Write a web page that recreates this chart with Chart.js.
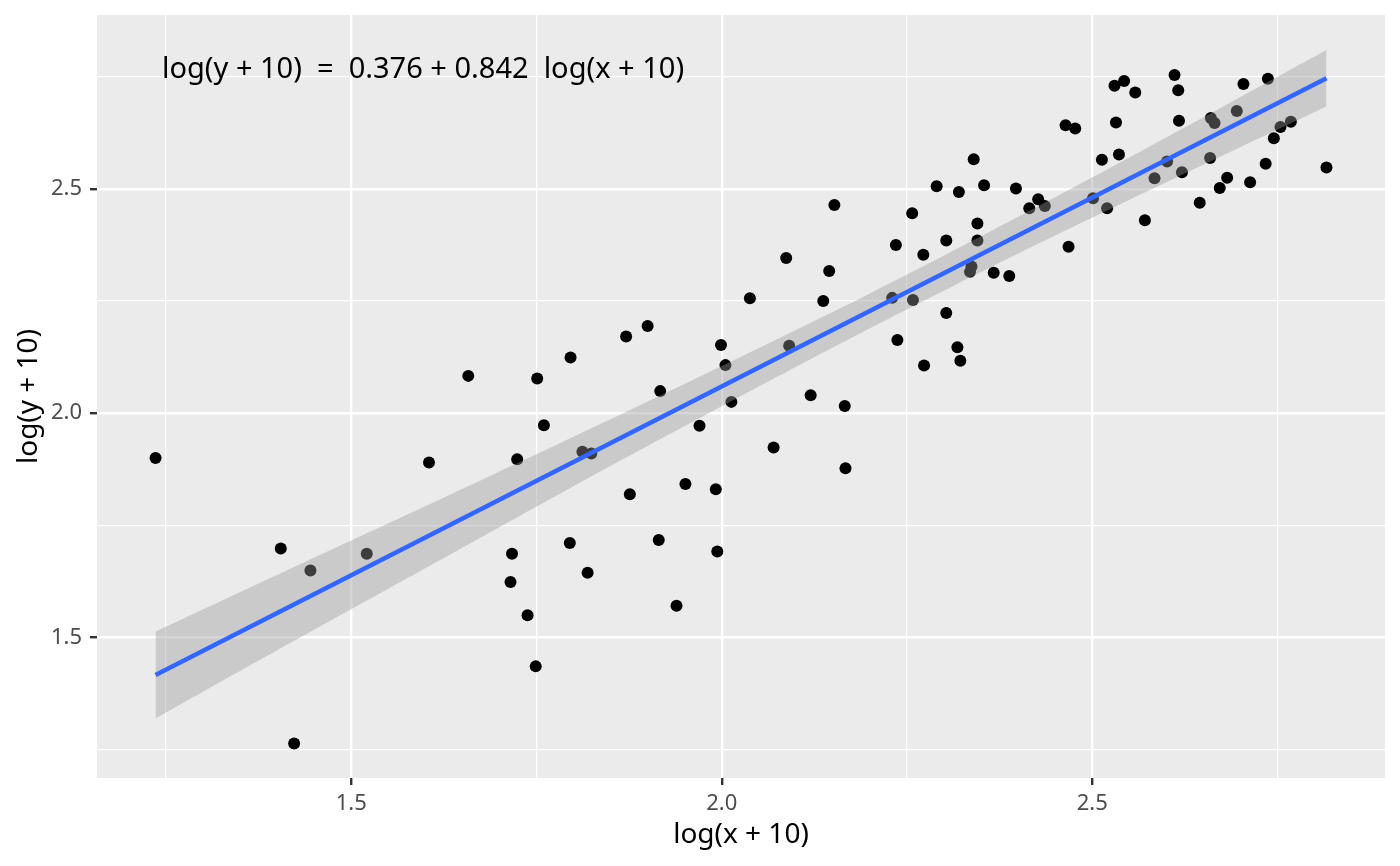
<!doctype html>
<html>
<head>
  <meta charset="UTF-8">
  <script src="https://cdn.jsdelivr.net/npm/chart.js"></script>
  <style>
    html, body { margin: 0; padding: 0; background: #ffffff; }
    canvas { display: block; }
  </style>
</head>
<body>
  <canvas id="fitChart" width="1400" height="866"></canvas>

<script>
  // points
  const xVals = [1.236, 1.405, 1.423, 1.445, 1.521, 1.605, 1.658, 1.717, 1.715, 1.724,
    1.738, 1.751, 1.749, 1.760, 1.796, 1.795, 1.812, 1.824, 1.819, 1.871,
    1.876, 1.900, 1.915, 1.917, 1.939, 1.951, 1.970, 1.992, 1.994, 1.999,
    2.005, 2.013, 2.038, 2.070, 2.087, 2.091, 2.120, 2.137, 2.145, 2.152,
    2.166, 2.167, 2.230, 2.235, 2.237, 2.257, 2.258, 2.272, 2.273, 2.290,
    2.303, 2.303, 2.318, 2.320, 2.322, 2.337, 2.335, 2.340, 2.345, 2.345,
    2.354, 2.367, 2.388, 2.397, 2.415, 2.427, 2.436, 2.464, 2.468, 2.477,
    2.501, 2.513, 2.520, 2.530, 2.532, 2.536, 2.543, 2.558, 2.571, 2.584,
    2.601, 2.611, 2.616, 2.617, 2.621, 2.645, 2.659, 2.660, 2.665, 2.672,
    2.682, 2.695, 2.704, 2.713, 2.734, 2.737, 2.745, 2.754, 2.768, 2.816];
  const yVals = [1.900, 1.698, 1.263, 1.649, 1.686, 1.890, 2.083, 1.686, 1.623, 1.897,
    1.549, 2.077, 1.435, 1.973, 2.124, 1.710, 1.914, 1.910, 1.644, 2.171,
    1.819, 2.194, 1.717, 2.049, 1.570, 1.842, 1.972, 1.830, 1.691, 2.152,
    2.107, 2.025, 2.256, 1.923, 2.346, 2.150, 2.040, 2.250, 2.317, 2.464,
    2.016, 1.877, 2.257, 2.375, 2.163, 2.446, 2.252, 2.353, 2.106, 2.506,
    2.385, 2.223, 2.147, 2.493, 2.117, 2.327, 2.315, 2.566, 2.423, 2.385,
    2.508, 2.313, 2.306, 2.501, 2.457, 2.477, 2.462, 2.642, 2.371, 2.635,
    2.479, 2.565, 2.457, 2.730, 2.648, 2.577, 2.741, 2.715, 2.430, 2.524,
    2.561, 2.754, 2.720, 2.652, 2.537, 2.469, 2.569, 2.658, 2.647, 2.502,
    2.525, 2.674, 2.734, 2.515, 2.556, 2.746, 2.613, 2.638, 2.650, 2.548];

  // fitted line ends and confidence band edges
  const fitX = [1.236, 2.816];
  const fitY = [1.416, 2.747];
  const bandX = [1.236, 1.4, 1.6, 1.8, 2.0, 2.2, 2.4, 2.6, 2.816];
  const bandUpper = [1.513, 1.639, 1.792, 1.947, 2.105, 2.267, 2.438, 2.615, 2.810];
  const bandLower = [1.319, 1.471, 1.654, 1.837, 2.015, 2.189, 2.356, 2.515, 2.684];

  const xMajor = [1.5, 2.0, 2.5];
  const xMinor = [1.25, 1.75, 2.25, 2.75];
  const yMajor = [1.5, 2.0, 2.5];
  const yMinor = [1.25, 1.75, 2.25, 2.75];

  const xTitle = 'log(x + 10)';
  const yTitle = 'log(y + 10)';
  const eqText = 'log(y + 10)  =  0.376 + 0.842  log(x + 10)';

  const FONT = "'Noto Sans', 'Open Sans', sans-serif";

  const zip = (xs, ys) => xs.map((x, i) => ({ x: x, y: ys[i] }));
  const isMajor = (v, majors) => majors.some(m => Math.abs(m - v) < 1e-9);

  // grey panel behind everything
  const panelBg = {
    id: 'panelBg',
    beforeDraw(chart) {
      const { ctx, chartArea: a } = chart;
      ctx.save();
      ctx.fillStyle = '#EBEBEB';
      ctx.fillRect(a.left, a.top, a.right - a.left, a.bottom - a.top);
      ctx.restore();
    }
  };

  // equation label in the top left of the panel
  const eqLabel = {
    id: 'eqLabel',
    afterDatasetsDraw(chart) {
      const { ctx, chartArea: a } = chart;
      ctx.save();
      ctx.font = '29px ' + FONT;
      ctx.fillStyle = '#000000';
      ctx.textAlign = 'left';
      ctx.textBaseline = 'alphabetic';
      ctx.fillText(eqText, a.left + 65, a.top + 63);
      ctx.restore();
    }
  };

  function setTicks(majors, minors) {
    return function (scale) {
      scale.ticks = majors.concat(minors).sort((a, b) => a - b).map(v => ({ value: v }));
    };
  }

  const ctx = document.getElementById('fitChart').getContext('2d');
  const fitChart = new Chart(ctx, {
    type: 'scatter',
    data: {
      datasets: [{
        type: 'line',
        data: zip(fitX, fitY),
        borderColor: '#3366FF',
        borderWidth: 4.5,
        pointRadius: 0,
        fill: false,
        order: 0
      }, {
        type: 'line',
        data: zip(bandX, bandUpper),
        borderWidth: 0,
        borderColor: 'rgba(0,0,0,0)',
        backgroundColor: 'rgba(153,153,153,0.4)',
        pointRadius: 0,
        tension: 0.3,
        fill: '+1',
        order: 1
      }, {
        type: 'line',
        data: zip(bandX, bandLower),
        borderWidth: 0,
        borderColor: 'rgba(0,0,0,0)',
        pointRadius: 0,
        tension: 0.3,
        fill: false,
        order: 2
      }, {
        data: zip(xVals, yVals),
        backgroundColor: '#000000',
        borderWidth: 0,
        pointRadius: 6,
        order: 3
      }]
    },
    options: {
      responsive: false,
      animation: false,
      devicePixelRatio: 1,
      layout: { padding: { left: 0, right: 15, top: 15, bottom: 0 } },
      plugins: {
        legend: { display: false },
        tooltip: { enabled: false }
      },
      scales: {
        x: {
          type: 'linear',
          min: 1.157,
          max: 2.895,
          afterBuildTicks: setTicks(xMajor, xMinor),
          afterFit(scale) {
            scale.height = 88;
            scale.paddingLeft = 0;
            scale.paddingRight = 0;
          },
          border: { display: false },
          grid: {
            color: '#FFFFFF',
            lineWidth: c => isMajor(c.tick.value, xMajor) ? 2.4 : 1.2,
            tickColor: c => isMajor(c.tick.value, xMajor) ? '#333333' : 'rgba(0,0,0,0)',
            tickWidth: 2.4,
            tickLength: 7
          },
          ticks: {
            autoSkip: false,
            maxRotation: 0,
            padding: 6,
            color: '#4D4D4D',
            font: { family: FONT, size: 22 },
            callback: v => isMajor(v, xMajor) ? v.toFixed(1) : ''
          },
          title: {
            display: true,
            text: xTitle,
            color: '#000000',
            font: { family: FONT, size: 28 },
            padding: { top: 0, bottom: 14 }
          }
        },
        y: {
          type: 'linear',
          min: 1.186,
          max: 2.888,
          afterBuildTicks: setTicks(yMajor, yMinor),
          afterFit(scale) {
            scale.width = 97;
            scale.paddingTop = 0;
            scale.paddingBottom = 0;
          },
          border: { display: false },
          grid: {
            color: '#FFFFFF',
            lineWidth: c => isMajor(c.tick.value, yMajor) ? 2.4 : 1.2,
            tickColor: c => isMajor(c.tick.value, yMajor) ? '#333333' : 'rgba(0,0,0,0)',
            tickWidth: 2.4,
            tickLength: 7
          },
          ticks: {
            autoSkip: false,
            padding: 8,
            color: '#4D4D4D',
            font: { family: FONT, size: 22 },
            callback: v => isMajor(v, yMajor) ? v.toFixed(1) : ''
          },
          title: {
            display: true,
            text: yTitle,
            color: '#000000',
            font: { family: FONT, size: 28 },
            padding: { top: 12, bottom: 0 }
          }
        }
      }
    },
    plugins: [panelBg, eqLabel]
  });
</script>
</body>
</html>
